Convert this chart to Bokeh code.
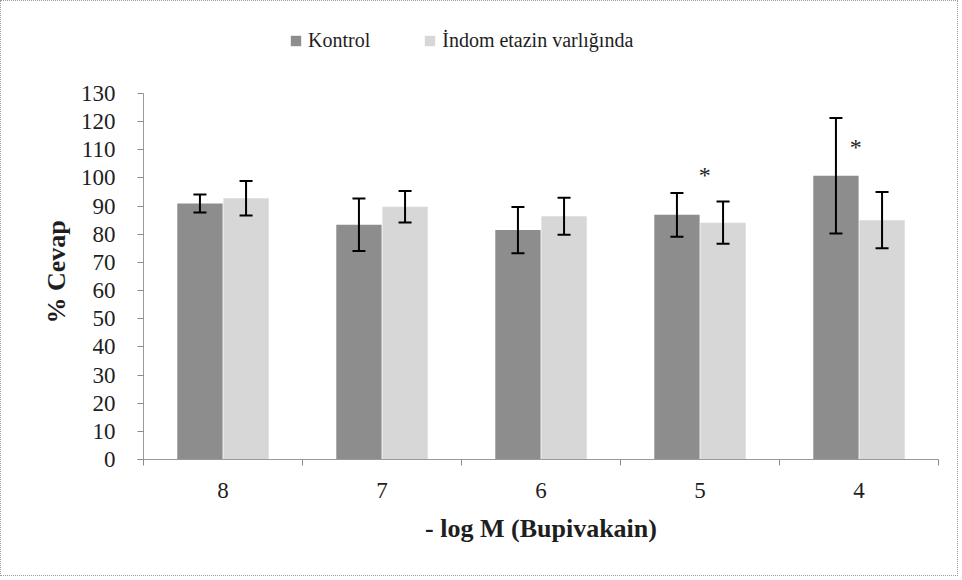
from bokeh.plotting import figure
from bokeh.models import (ColumnDataSource, Range1d, FixedTicker, Whisker, TeeHead,
                          Legend, LegendItem, Title)
from bokeh.core.properties import value
from bokeh.embed import file_html
from bokeh.resources import INLINE

# ---- data ----
categories = ["8", "7", "6", "5", "4"]
kontrol = [90.9, 83.4, 81.5, 86.9, 100.8]
kontrol_err = [3.2, 9.3, 8.2, 7.8, 20.5]
indom = [92.8, 89.8, 86.4, 84.1, 85.0]
indom_err = [6.1, 5.6, 6.6, 7.5, 10.0]
series_names = ["Kontrol", "İndom etazin varlığında"]
y_ticks = list(range(0, 131, 10))
sig_index = [3, 4]          # categories "5" and "4" carry an asterisk
sig_level = [101, 111]
sig_shift = [0.03, -0.02]
x_title = "- log M (Bupivakain)"
y_title = "% Cevap"

SERIF = "Liberation Serif"
C_K = "#8d8d8d"
C_I = "#d7d7d7"
TXT = "#1e1e1e"

# layout (pixels)
W, H = 958, 576
LEFT, RIGHT, TOP, BOTTOM = 142, 21, 16, 118
AXIS_TOP_PX = 92          # where the 130 tick sits
frame_h = H - TOP - BOTTOM
axis_h = H - BOTTOM - AXIS_TOP_PX
y_max = max(y_ticks)
y_end = y_max * frame_h / axis_h

off, bw = 0.145, 0.285
centers = [i + 0.5 for i in range(len(categories))]

src_k = ColumnDataSource(dict(x=[c - off for c in centers], top=kontrol,
                              lo=[v - e for v, e in zip(kontrol, kontrol_err)],
                              hi=[v + e for v, e in zip(kontrol, kontrol_err)]))
src_i = ColumnDataSource(dict(x=[c + off for c in centers], top=indom,
                              lo=[v - e for v, e in zip(indom, indom_err)],
                              hi=[v + e for v, e in zip(indom, indom_err)]))

p = figure(width=W, height=H, output_backend="svg", toolbar_location=None,
           x_range=Range1d(0, len(categories)), y_range=Range1d(0, y_end),
           min_border_left=LEFT, min_border_right=RIGHT, min_border_top=TOP,
           min_border_bottom=BOTTOM)
p.styles = {"border": "1px dotted #9a9a9a", "box-sizing": "border-box"}
p.outline_line_color = None
p.xgrid.visible = False
p.ygrid.visible = False

rk = p.vbar(x="x", top="top", width=bw, source=src_k, fill_color=C_K, line_color=None)
ri = p.vbar(x="x", top="top", width=bw, source=src_i, fill_color=C_I, line_color=None)

for src in (src_k, src_i):
    w = Whisker(source=src, base="x", lower="lo", upper="hi", level="overlay",
                line_color="black", line_width=2,
                upper_head=TeeHead(size=13, line_width=2, line_color="black"),
                lower_head=TeeHead(size=13, line_width=2, line_color="black"))
    p.add_layout(w)

star_src = ColumnDataSource(dict(
    x=[centers[i] + s for i, s in zip(sig_index, sig_shift)],
    y=sig_level, t=["*"] * len(sig_index)))
p.text(x="x", y="y", text="t", source=star_src, text_font=value(SERIF),
       text_font_size="24px", text_align="center", text_baseline="middle",
       text_color="#222222")

# x axis
p.xaxis.ticker = FixedTicker(ticks=centers, minor_ticks=list(range(len(categories) + 1)))
p.xaxis.major_label_overrides = {c: lab for c, lab in zip(centers, categories)}
p.xaxis.major_tick_line_color = None
p.xaxis.minor_tick_out = 6
p.xaxis.minor_tick_in = 0
p.xaxis.minor_tick_line_color = "#8a8a8a"
p.xaxis.axis_line_color = "#9a9a9a"
p.xaxis.major_label_standoff = 17
p.xaxis.major_label_text_font = SERIF
p.xaxis.major_label_text_font_size = "23px"
p.xaxis.major_label_text_color = TXT
p.xaxis.axis_label = x_title
p.xaxis.axis_label_text_font = SERIF
p.xaxis.axis_label_text_font_style = "bold"
p.xaxis.axis_label_text_font_size = "26px"
p.xaxis.axis_label_text_color = TXT
p.xaxis.axis_label_standoff = 13

# y axis (its title sits centred on the 0-130 span, not on the frame)
p.yaxis.bounds = (0, y_max)
p.yaxis.ticker = FixedTicker(ticks=y_ticks)
p.yaxis.major_tick_out = 6
p.yaxis.major_tick_in = 0
p.yaxis.minor_tick_line_color = None
p.yaxis.major_tick_line_color = "#8a8a8a"
p.yaxis.axis_line_color = "#9a9a9a"
p.yaxis.major_label_standoff = 22
p.yaxis.major_label_text_font = SERIF
p.yaxis.major_label_text_font_size = "23px"
p.yaxis.major_label_text_color = TXT

ytitle = Title(text=y_title, align="left", offset=136, standoff=13,
               text_font=SERIF, text_font_style="bold", text_font_size="26px",
               text_color=TXT)
p.add_layout(ytitle, "left")

legend = Legend(items=[LegendItem(label=series_names[0], renderers=[rk]),
                       LegendItem(label=series_names[1], renderers=[ri])],
                orientation="horizontal", location=(146, H - BOTTOM - 51),
                glyph_width=13, glyph_height=13, label_height=20,
                label_standoff=6, spacing=53, padding=0, margin=0,
                border_line_color=None, background_fill_alpha=0,
                label_text_font=SERIF, label_text_font_size="20px",
                label_text_color=TXT)
p.add_layout(legend, "center")

open("out.html", "w").write(file_html(p, INLINE))
